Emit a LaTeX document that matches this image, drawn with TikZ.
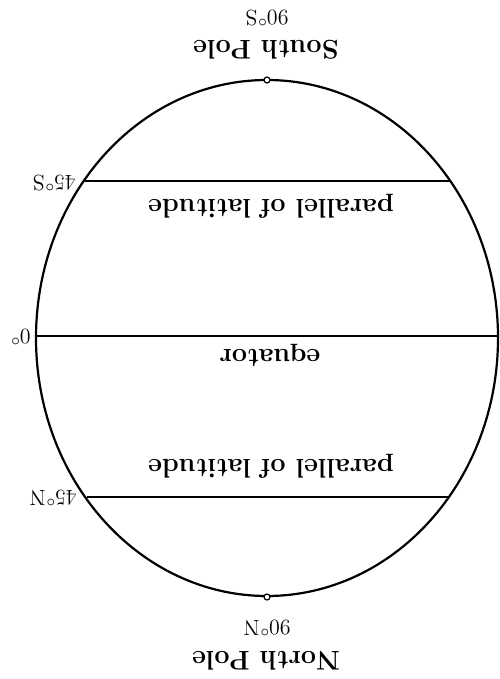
\documentclass[tikz,border=0pt]{standalone}
\usepackage{tikz}
\usetikzlibrary{positioning,calc}

\begin{document}
\begin{tikzpicture}[
    x=0.5pt, y=-0.5pt,
    globe/.style={draw, line width=1.1pt},
    par/.style={draw, line width=0.9pt},
    big/.style={rotate=180, inner sep=0pt, font=\fontsize{13.5}{16}\selectfont\bfseries},
    deg/.style={rotate=180, inner sep=0pt, font=\fontsize{11}{13}\selectfont},
    pole/.style={circle, draw, line width=0.6pt, fill=white, inner sep=0pt, minimum size=3pt},
  ]
  \useasboundingbox (0,0) rectangle (499,679);

  % globe outline (picture is upside down)
  \draw[globe] (267,338) ellipse [x radius=231, y radius=258];

  % end points of the parallels and the equator
  \coordinate (sw) at (85,181);
  \coordinate (se) at (450,181);
  \coordinate (nw) at (87,497);
  \coordinate (ne) at (448,497);
  \coordinate (ew) at (36,336);
  \coordinate (ee) at (499,336);
  \draw[par] (sw) -- (se);
  \draw[par] (ew) -- (ee);
  \draw[par] (nw) -- (ne);

  % poles
  \node[pole] (sp) at (267,80) {};
  \node[pole] (np) at (267,597) {};

  % labels
  \node[deg] (s90) at (267,18) {90$^\circ$S};
  \node[big] (spl) at (266,50) {South Pole};
  \node[deg] (n90) at (267,628) {90$^\circ$N};
  \node[big] (npl) at (266,661) {North Pole};
  \node[deg, anchor=west] (s45) at (76,183) {45$^\circ$S};
  \node[deg, anchor=west] (eq0) at (31,337) {0$^\circ$};
  \node[deg, anchor=west] (n45) at (77,498) {45$^\circ$N};
  \node[big] (pls) at (271,206) {parallel of latitude};
  \node[big] (eqt) at (270,355) {equator};
  \node[big] (pln) at (271,466) {parallel of latitude};
\end{tikzpicture}
\end{document}
